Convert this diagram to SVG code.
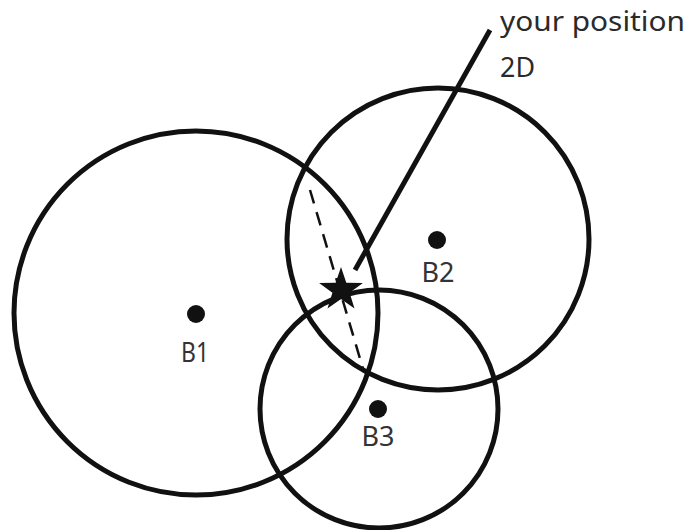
<svg xmlns="http://www.w3.org/2000/svg" width="688" height="530" viewBox="0 0 688 530">
<style>
.ring{fill:none;stroke:#111;stroke-width:5}
.dot{fill:#111}
.lbl{font-family:"Noto Sans","Liberation Sans",sans-serif;font-size:27px;fill:#333;text-anchor:middle}
.cap{font-family:"Noto Sans","Liberation Sans",sans-serif;font-size:27px;fill:#2a2a2a}
</style>
<rect width="688" height="530" fill="#fff"/>
<g id="B1">
<circle class="ring" cx="196" cy="313" r="182"/>
<circle class="dot" cx="196" cy="314" r="9"/>
<text class="lbl" x="195" y="362" textLength="28" lengthAdjust="spacingAndGlyphs">B1</text>
</g>
<g id="B2">
<circle class="ring" cx="438" cy="239" r="151"/>
<circle class="dot" cx="437" cy="240" r="9"/>
<text class="lbl" x="438" y="282" textLength="33" lengthAdjust="spacingAndGlyphs">B2</text>
</g>
<g id="B3">
<circle class="ring" cx="379" cy="409" r="119"/>
<circle class="dot" cx="378" cy="409" r="9"/>
<text class="lbl" x="378" y="446" textLength="33" lengthAdjust="spacingAndGlyphs">B3</text>
</g>
<g id="connectors">
<line x1="310" y1="190" x2="364" y2="372" stroke="#111" stroke-width="2.5" stroke-dasharray="14,9"/>
<line x1="355" y1="270" x2="490" y2="30" stroke="#111" stroke-width="5"/>
</g>
<g id="star">
<polygon fill="#111" points="341,267 346.3,282.7 362.9,282.9 349.6,292.8 354.5,308.6 341,299 327.5,308.6 332.4,292.8 319.1,282.9 335.7,282.7"/>
</g>
<g id="caption">
<text class="cap" x="500" y="31" textLength="185" lengthAdjust="spacingAndGlyphs">your position</text>
<text class="cap" x="500" y="77" textLength="35" lengthAdjust="spacingAndGlyphs">2D</text>
</g>
</svg>
